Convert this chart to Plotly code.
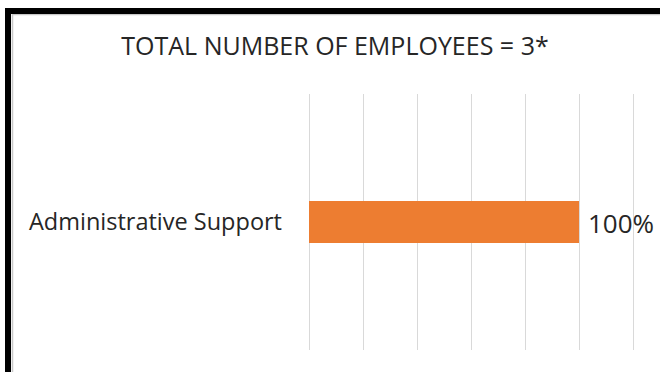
import plotly.graph_objects as go

categories = ["Administrative Support"]
values = [1.0]
value_labels = ["100%"]
title_text = "TOTAL NUMBER OF EMPLOYEES = 3*"

W, H = 660, 372
L, R, T, B = 309, 636, 94, 350
XMAX = (R - L) / 270.0

fig = go.Figure(go.Bar(
    x=values, y=categories, orientation="h",
    marker=dict(color="#ED7D31", line=dict(width=0)),
    width=0.164,
    cliponaxis=False,
))

for v, c, t in zip(values, categories, value_labels):
    fig.add_annotation(x=v, y=c, text=t, showarrow=False, xanchor="left", yanchor="middle",
                       xshift=7, yshift=-1,
                       font=dict(size=26, color="#262626", family="Open Sans"))

def px(x):
    return (x - L) / (R - L)

def py(y):
    return (B - y) / (B - T)

fig.update_layout(
    width=W, height=H,
    margin=dict(l=L, r=W - R, t=T, b=H - B, pad=0),
    paper_bgcolor="white", plot_bgcolor="white",
    showlegend=False,
    title=dict(text=title_text, x=335 / W, xanchor="center", y=1 - 46 / H, yanchor="middle",
               font=dict(size=25, color="#262626", family="Open Sans")),
    xaxis=dict(range=[0, XMAX], tick0=0, dtick=0.2, showgrid=True, gridcolor="#D9D9D9", gridwidth=1.3,
               showticklabels=False, zeroline=True, zerolinecolor="#D9D9D9", zerolinewidth=1.3,
               showline=False, ticks=""),
    yaxis=dict(range=[-0.5, 0.5], showgrid=False, zeroline=False, showline=False,
               tickfont=dict(size=23.5, color="#262626", family="Open Sans"), ticks="",
               ticklabelstandoff=26),
    shapes=[
        dict(type="rect", xref="paper", yref="paper",
             x0=px(12.5), x1=px(700), y0=py(400), y1=py(14.5),
             line=dict(color="#C8C8C8", width=1.5), fillcolor="rgba(0,0,0,0)"),
        dict(type="rect", xref="paper", yref="paper",
             x0=px(8), x1=px(700), y0=py(400), y1=py(11),
             line=dict(color="black", width=6), fillcolor="rgba(0,0,0,0)"),
    ],
)

fig.write_html("out.html", config={"displayModeBar": False},
               post_script="document.body.style.margin='0px';document.body.style.overflow='hidden';")
